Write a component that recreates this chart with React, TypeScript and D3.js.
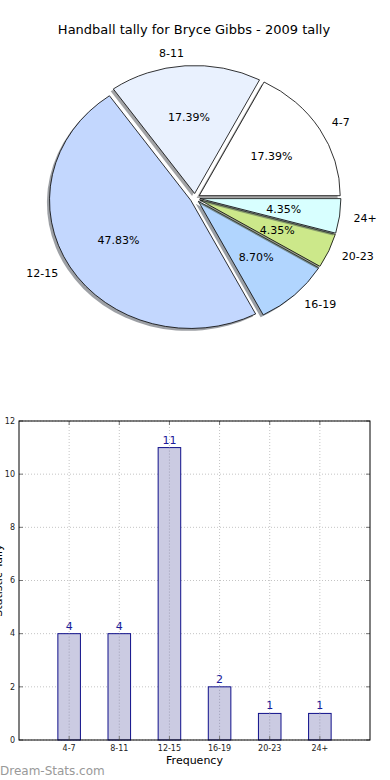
import { arc, pie, rgb, scaleLinear } from 'd3'

const pieLabels = ['4-7', '8-11', '12-15', '16-19', '20-23', '24+']
const pieValues = [4, 4, 11, 2, 1, 1]
const pieColors = ['#ffffff', '#e9f1fe', '#c3d7fe', '#b1d5fe', '#cce88a', '#d8ffff']

const barCategories = ['4-7', '8-11', '12-15', '16-19', '20-23', '24+']
const barValues = [4, 4, 11, 2, 1, 1]
const yTickValues = [0, 2, 4, 6, 8, 10, 12]

const width = 390
const height = 780
const font = 'DejaVu Sans, sans-serif'

// pie is drawn as an ellipse, like the stretched matplotlib axes
const pieCenter = { x: 195, y: 198 }
const pieRx = 141
const pieRy = 128
const explode = 0.035

const frame = { left: 19, right: 370, top: 421, bottom: 740 }
const barWidth = 0.45

function PieChart() {
  const total = pieValues.reduce((a, b) => a + b, 0)
  const slices = pie<number>()
    .sort(null)
    .startAngle(Math.PI / 2)
    .endAngle(Math.PI / 2 - 2 * Math.PI)(pieValues)
  const wedge = arc<any>().innerRadius(0).outerRadius(1)

  return (
    <g>
      {slices.map((s, i) => {
        const mid = (s.startAngle + s.endAngle) / 2
        const ox = Math.sin(mid) * explode
        const oy = -Math.cos(mid) * explode
        const face = pieColors[i]
        const c = rgb(face)
        const shadow = rgb(c.r * 0.3, c.g * 0.3, c.b * 0.3).toString()
        return (
          <g key={pieLabels[i]} transform={`translate(${pieCenter.x},${pieCenter.y}) scale(${pieRx},${pieRy})`}>
            <path
              d={wedge(s) ?? ''}
              transform={`translate(${ox - 2.6 / pieRx},${oy + 2.4 / pieRy})`}
              fill={shadow}
              fillOpacity={0.5}
            />
            <path
              d={wedge(s) ?? ''}
              transform={`translate(${ox},${oy})`}
              fill={face}
              stroke="#000"
              strokeWidth={0.8}
              vectorEffect="non-scaling-stroke"
            />
          </g>
        )
      })}

      {slices.map((s, i) => {
        const mid = (s.startAngle + s.endAngle) / 2
        const ux = Math.sin(mid)
        const uy = -Math.cos(mid)
        const cx = pieCenter.x + ux * explode * pieRx
        const cy = pieCenter.y + uy * explode * pieRy
        return (
          <g key={`${pieLabels[i]}-text`} fontFamily={font} fontSize={11} fill="#000">
            <text
              x={cx + 1.1 * ux * pieRx}
              y={cy + 1.1 * uy * pieRy}
              dy="0.35em"
              textAnchor={ux > 0 ? 'start' : 'end'}
            >
              {pieLabels[i]}
            </text>
            <text x={cx + 0.6 * ux * pieRx} y={cy + 0.6 * uy * pieRy} dy="0.35em" textAnchor="middle">
              {((pieValues[i] / total) * 100).toFixed(2)}%
            </text>
          </g>
        )
      })}
    </g>
  )
}

function BarChart() {
  const xScale = scaleLinear().domain([-1, 6]).range([frame.left, frame.right])
  const yScale = scaleLinear().domain([0, 12]).range([frame.bottom, frame.top])
  const half = (xScale(barWidth) - xScale(0)) / 2

  return (
    <g>
      {/* grid */}
      {yTickValues.map((t) => (
        <line
          key={`gy-${t}`}
          x1={frame.left}
          x2={frame.right}
          y1={yScale(t)}
          y2={yScale(t)}
          stroke="#c4c4c4"
          strokeDasharray="1,2"
        />
      ))}
      {barCategories.map((c, i) => (
        <line
          key={`gx-${c}`}
          x1={xScale(i)}
          x2={xScale(i)}
          y1={frame.top}
          y2={frame.bottom}
          stroke="#c4c4c4"
          strokeDasharray="1,2"
        />
      ))}

      {barCategories.map((c, i) => {
        const y = yScale(barValues[i])
        return (
          <rect
            key={`bar-${c}`}
            x={xScale(i) - half}
            y={y}
            width={half * 2}
            height={frame.bottom - y}
            fill="#cbcbe2"
            stroke="#10108a"
            strokeWidth={1}
          />
        )
      })}

      {barCategories.map((c, i) => (
        <line
          key={`gx2-${c}`}
          x1={xScale(i)}
          x2={xScale(i)}
          y1={yScale(barValues[i])}
          y2={frame.bottom}
          stroke="#a0a0b8"
          strokeDasharray="1,2"
        />
      ))}

      {barCategories.map((c, i) => (
        <text
          key={`val-${c}`}
          x={xScale(i)}
          y={yScale(barValues[i]) - 4}
          textAnchor="middle"
          fontFamily={font}
          fontSize={11}
          fill="#1a1a9a"
        >
          {barValues[i]}
        </text>
      ))}

      {/* ticks */}
      {yTickValues.map((t) => (
        <g key={`yt-${t}`}>
          <line x1={frame.left} x2={frame.left + 4} y1={yScale(t)} y2={yScale(t)} stroke="#777" />
          <line x1={frame.right - 4} x2={frame.right} y1={yScale(t)} y2={yScale(t)} stroke="#777" />
          <text
            x={frame.left - 4}
            y={yScale(t)}
            dy="0.35em"
            textAnchor="end"
            fontFamily={font}
            fontSize={8}
            fill="#222"
          >
            {t}
          </text>
        </g>
      ))}
      {barCategories.map((c, i) => (
        <g key={`xt-${c}`}>
          <line x1={xScale(i)} x2={xScale(i)} y1={frame.bottom - 4} y2={frame.bottom} stroke="#777" />
          <line x1={xScale(i)} x2={xScale(i)} y1={frame.top} y2={frame.top + 4} stroke="#777" />
          <text
            x={xScale(i)}
            y={frame.bottom + 11}
            textAnchor="middle"
            fontFamily={font}
            fontSize={8}
            fill="#222"
          >
            {c}
          </text>
        </g>
      ))}

      <rect
        x={frame.left}
        y={frame.top}
        width={frame.right - frame.left}
        height={frame.bottom - frame.top}
        fill="none"
        stroke="#000"
        strokeWidth={1}
      />

      <text
        x={(frame.left + frame.right) / 2}
        y={frame.bottom + 24}
        textAnchor="middle"
        fontFamily={font}
        fontSize={11}
        fill="#000"
      >
        Frequency
      </text>
      {/* the y label sits mostly off the left edge, as in the source image */}
      <text
        transform={`translate(2,${(frame.top + frame.bottom) / 2}) rotate(-90)`}
        textAnchor="middle"
        fontFamily={font}
        fontSize={11}
        fill="#000"
      >
        Statistic Tally
      </text>
    </g>
  )
}

export default function App() {
  return (
    <svg
      width={width}
      height={height}
      viewBox={`0 0 ${width} ${height}`}
      style={{ position: 'absolute', left: 0, top: 0, background: '#fff' }}
    >
      <rect width={width} height={height} fill="#fff" />
      <text x={194} y={34} textAnchor="middle" fontFamily={font} fontSize={13} fill="#000">
        Handball tally for Bryce Gibbs - 2009 tally
      </text>
      <PieChart />
      <BarChart />
      <text x={0} y={775} fontFamily={font} fontSize={12} fill="#999">
        Dream-Stats.com
      </text>
    </svg>
  )
}
